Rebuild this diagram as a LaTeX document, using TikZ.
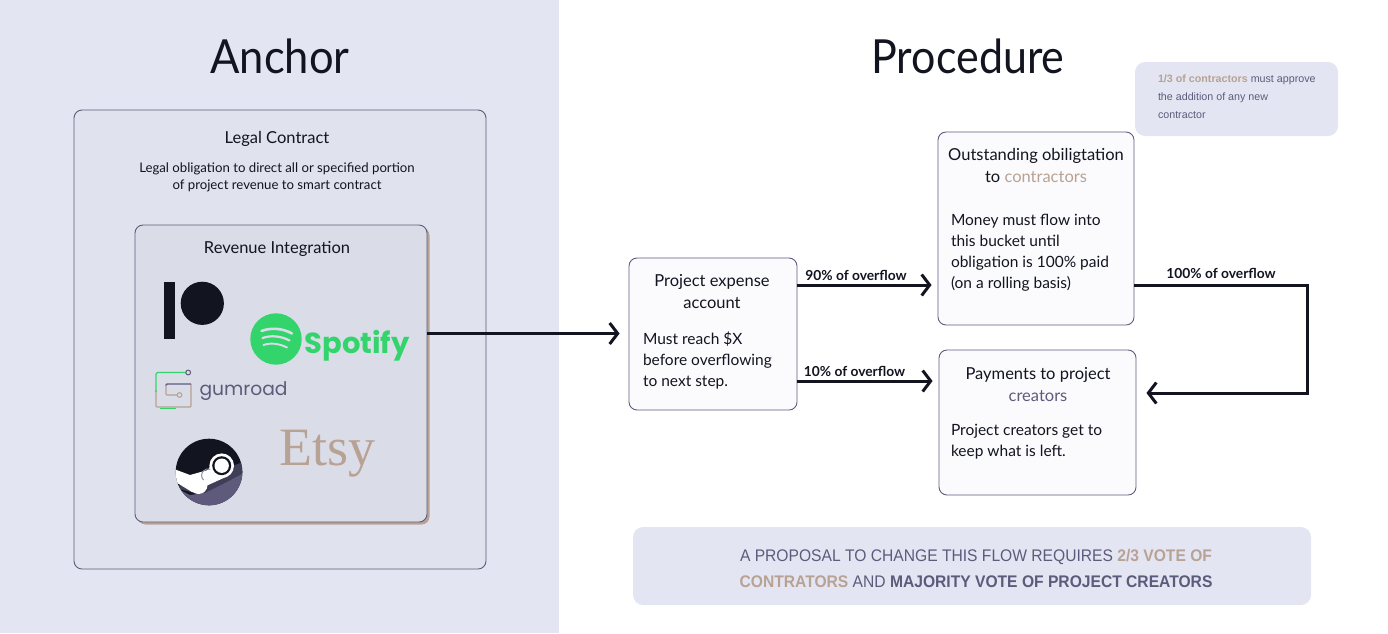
\documentclass[tikz,border=0pt]{standalone}
\usepackage{fontspec}
\setmainfont{Lato}
\newfontfamily\notefont{Liberation Sans}
\newfontfamily\logofont{Poppins}
\newfontfamily\etsyfont{Liberation Serif}
\usetikzlibrary{arrows.meta,calc}
\definecolor{ink}{HTML}{12141F}
\definecolor{tan}{HTML}{B8A294}
\definecolor{plum}{HTML}{5E5A7C}
\definecolor{panel}{HTML}{E3E6F2}
\definecolor{contractfill}{HTML}{E0E3EE}
\definecolor{revfill}{HTML}{DADDE8}
\definecolor{spot}{HTML}{33D46C}
\definecolor{cardfill}{HTML}{FBFBFE}
\newcommand{\fs}[2]{\fontsize{#1}{#2}\selectfont}
\tikzset{
  txt/.style={inner sep=0pt,outer sep=0pt,text=ink},
  card/.style={draw=plum,line width=0.9pt,rounded corners=8pt,fill=cardfill,inner sep=0pt},
  softbox/.style={fill=panel,rounded corners=10pt,inner sep=0pt},
  flow/.style={draw=ink,line width=3pt,-{Straight Barb[length=8pt,width=21pt,line width=3pt]},line join=miter},
  ctitle/.style={txt,align=center,font=\fs{16.5}{22}},
  cbody/.style={txt,align=left,anchor=north west,font=\fs{15.5}{21}},
  flab/.style={txt,font=\bfseries\fs{13.8}{15}},
}
\begin{document}
\begin{tikzpicture}[x=1pt,y=-1pt]
\useasboundingbox (0,0) rectangle (1388,633);
\fill[panel] (0,0) rectangle (559,633);
\node[txt,xscale=0.925,font=\fs{47}{50}] (anchorT) at (280,56) {Anchor};
\node[txt,xscale=0.915,font=\fs{47}{50}] (procT) at (968,56) {Procedure};
% left
\node[card,fill=contractfill,minimum width=412pt,minimum height=459pt] (contract) at (280,339.5) {};
\node[txt,font=\fs{16.5}{20}] (contractT) at (277,139) {Legal Contract};
\node[txt,align=center,font=\fs{13.2}{17}] (contractS) at (277,177) {Legal obligation to direct all or specified portion\\of project revenue to smart contract};
\fill[tan,rounded corners=8pt] (137.5,227.5) rectangle (429.5,524.5);
\node[card,fill=revfill,minimum width=292pt,minimum height=297pt] (rev) at (281,373.5) {};
\node[txt,font=\fs{16.5}{20}] (revT) at (277,249) {Revenue Integration};
% patreon
\fill[ink] (164,282) rectangle (175,339);
\fill[ink] (202.3,303.3) circle (21.6);
% spotify
\fill[spot] (276,339) circle (25.7);
\begin{scope}[draw=revfill,line cap=round]
\draw[line width=2.6pt] (261.5,331) .. controls (271,327.5) and (282,328) .. (292,333.5);
\draw[line width=2.2pt] (262.5,338) .. controls (271,335) and (281,336) .. (289.5,340.5);
\draw[line width=1.9pt] (263.5,345) .. controls (271,342.5) and (279,343.5) .. (287,347.5);
\end{scope}
\node[txt,text=spot,anchor=base west,font=\bfseries\logofont\fs{29}{34}] (spotT) at (304.5,353) {Spotify};
% gumroad
\draw[tan,line width=1.3pt,rounded corners=1pt] (156,390) -- (156,407) -- (191,407) -- (191,384);
\draw[spot,line width=1.2pt,rounded corners=2pt] (186,372.5) -- (156,372.5) -- (156,392);
\draw[spot,line width=0.6pt] (160,408) -- (176,408);
\draw[plum,line width=1pt] (188.2,372.5) circle (2.4);
\draw[plum,line width=1.4pt,rounded corners=1pt] (166,386) -- (166,384) -- (191,384);
\draw[tan,line width=1.4pt,rounded corners=1pt] (166,385) -- (166,395) -- (177,395);
\draw[tan,line width=1.1pt] (179.5,395) circle (2.3);
\node[txt,text=plum,anchor=base west,font=\logofont\fs{18.7}{24}] (gumT) at (199.5,395) {gumroad};
% steam
\begin{scope}
\clip (209,472) circle (33.3);
\fill[ink] (175,438) rectangle (244,507);
\fill[plum!60!ink] (176,488) -- (190,478) -- (222,470) -- (243,462) -- (244,480) -- (205,496) -- cycle;
\fill[plum] (174,487) -- (190,495) -- (205,493) -- (225,483) -- (244,473) -- (244,507) -- (174,507) -- cycle;
\fill[white] (174,469) -- (190,475) -- (208,470) -- (216,456) -- (228,476) -- (206,486) -- (203,493) -- (192,492) -- (174,481) -- cycle;
\end{scope}
\fill[white] (221.7,465.7) circle (12.3);
\fill[ink] (221.7,465.7) circle (9.5);
\fill[white] (221.7,465.7) circle (7.2);
\fill[white] (198.5,485) circle (9);
\draw[plum!70!white,line width=1pt] (203.5,480) arc (-45:110:-6.5);
% etsy
\node[txt,text=tan,anchor=base west,font=\etsyfont\fs{54}{56}] (etsyT) at (279.5,465) {Etsy};
% right cards
\node[card,minimum width=168pt,minimum height=152pt] (expense) at (713,334) {};
\node[card,minimum width=196pt,minimum height=193pt] (oblig) at (1036,228.5) {};
\node[card,minimum width=197pt,minimum height=145pt] (pay) at (1037.5,422.5) {};
\node[ctitle] (expT) at (712,291.5) {Project expense\\account};
\node[cbody] (expB) at (643,332) {Must reach \$X\\before overflowing\\to next step.};
\node[ctitle] (oblT) at (1036,165) {Outstanding obiligtation\\to \textcolor{tan}{contractors}};
\node[cbody] (oblB) at (951,214.5) {Money must flow into\\this bucket until\\obligation is 100\% paid\\(on a rolling basis)};
\node[ctitle] (payT) at (1038,385) {Payments to project\\\textcolor{plum}{creators}};
\node[cbody] (payB) at (951,424.5) {Project creators get to\\keep what is left.};
% note
\node[softbox,minimum width=203pt,minimum height=74pt] (note) at (1236.5,99) {};
\node[txt,text=plum,align=left,anchor=north west,font=\notefont\fs{10.7}{18}] (noteT) at (1158,74.5) {\textcolor{tan}{\textbf{1/3 of contractors}} must approve\\the addition of any new\\contractor};
% bottom
\node[softbox,minimum width=678pt,minimum height=78pt] (vote) at (972,566) {};
\node[txt,text=plum,xscale=0.93,align=center,font=\notefont\fs{16.8}{26}] (voteT) at (976,568.5) {A PROPOSAL TO CHANGE THIS FLOW REQUIRES \textcolor{tan}{\textbf{2/3 VOTE OF}}\\\textcolor{tan}{\textbf{CONTRATORS}} AND \textbf{MAJORITY VOTE OF PROJECT CREATORS}};
% connectors
\coordinate (inY) at (620,333.5);
\coordinate (topY) at (0,285);
\coordinate (lowY) at (0,381);
\coordinate (corner) at (1307,285);
\coordinate (backY) at (0,393);
\draw[flow,shorten >=9pt] (rev.east |- inY) -- (expense.west |- inY);
\draw[flow,shorten >=6pt] (expense.east |- topY) -- (oblig.west |- topY);
\draw[flow,shorten >=6pt] (expense.east |- lowY) -- (pay.west |- lowY);
\draw[flow,shorten >=10pt] (oblig.east |- topY) -- (corner) -- (corner |- backY) -- (pay.east |- backY);
\node[flab] (l90) at (856,275) {90\% of overflow};
\node[flab] (l10) at (854.5,371) {10\% of overflow};
\node[flab] (l100) at (1221,273.5) {100\% of overflow};
\end{tikzpicture}
\end{document}
